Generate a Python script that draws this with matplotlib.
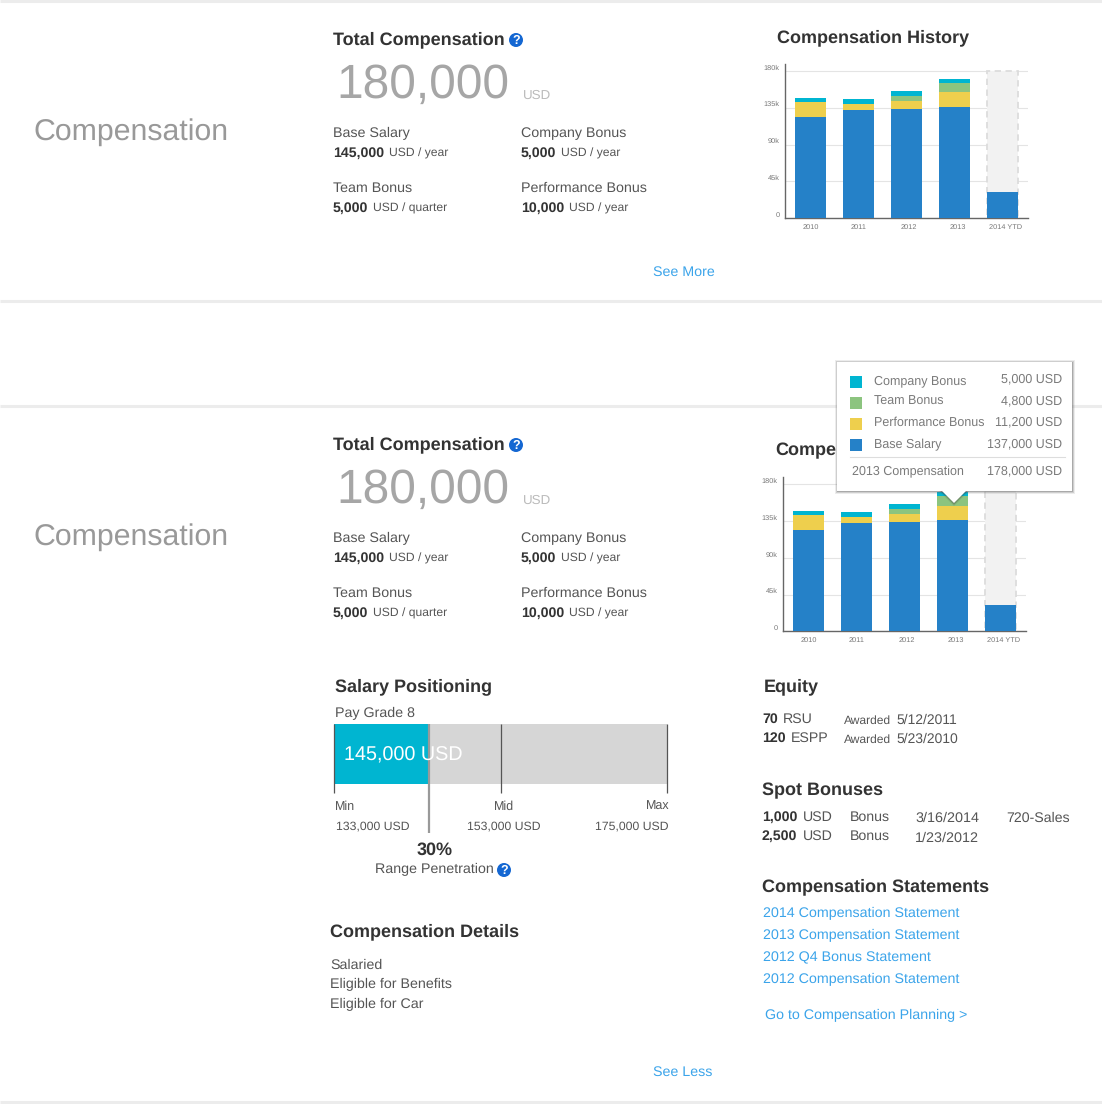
import matplotlib
matplotlib.use("Agg")
import matplotlib.pyplot as plt
from matplotlib.patches import Rectangle, Polygon, Circle
from matplotlib.transforms import ScaledTranslation

plt.rcParams['font.family'] = ['Liberation Sans', 'DejaVu Sans']
plt.rcParams['text.hinting'] = 'none'

# chart data, in thousands
years = ['2010', '2011', '2012', '2013', '2014 YTD']
base_salary = [124, 132.7, 134, 136.5, 32.2]
perf_bonus = [18.4, 7.3, 9.8, 17.2, 0]
team_bonus = [0, 0, 6.1, 12.2, 0]
company_bonus = [4.9, 6.1, 6.1, 4.9, 0]
ytd_target = 180
y_ticks = [0, 45, 90, 135, 180]
y_labels = ['0', '45k', '90k', '135k', '180k']

# tooltip
tip_names = ['Company Bonus', 'Team Bonus', 'Performance Bonus', 'Base Salary']
tip_values = ['5,000 USD', '4,800 USD', '11,200 USD', '137,000 USD']
tip_total = '178,000 USD'

# salary bar, position along the range in percent
salary_pos = 28.4
mid_pos = 50.2
range_names = ['Min', 'Mid', 'Max']
range_values = ['133,000 USD', '153,000 USD', '175,000 USD']

statements = ['2014 Compensation Statement', '2013 Compensation Statement',
              '2012 Q4 Bonus Statement', '2012 Compensation Statement']
details = ['Salaried', 'Eligible for Benefits', 'Eligible for Car']

BLUE = '#2581c8'
YELLOW = '#eecf4d'
GREEN = '#8cc47f'
CYAN = '#00b5d1'
DARK = '#333333'
MID = '#555555'
GREY = '#a6a6a6'
LINK = '#3ba4ea'
TIP = '#7a7a7a'
W, H = 1102, 1104

fig = plt.figure(figsize=(W / 100, H / 100), dpi=100, facecolor='white')
page = fig.add_axes([0, 0, 1, 1], zorder=2)
page.set_xlim(0, W)
page.set_ylim(H, 0)
page.axis('off')


def txt(x, y, s, size=10.3, color=MID, weight='normal', ha='left', zorder=3, axes=None):
    (axes or page).text(x, y, s, fontsize=size, color=color, fontweight=weight,
                        ha=ha, va='baseline', zorder=zorder)


def help_icon(x, y):
    page.add_patch(Circle((x, y), 7, fc='#1467d2', ec='none', zorder=3))
    page.text(x, y + 4, '?', fontsize=9, color='white', fontweight='bold',
              ha='center', va='baseline', zorder=4)


def summary(dy):
    txt(33, 140 + dy, 'Compensation', 21.8, '#999999')
    txt(333, 44 + dy, 'Total Compensation', 13, DARK, 'bold')
    help_icon(516, 40 + dy)
    txt(336, 98 + dy, '180,000', 34.5, GREY)
    txt(523, 99 + dy, 'USD', 9.6, '#bbbbbb')
    txt(333, 137 + dy, 'Base Salary')
    txt(333, 157 + dy, '145,000', 10.2, DARK, 'bold')
    txt(389, 157 + dy, 'USD / year', 8.7)
    txt(521, 137 + dy, 'Company Bonus')
    txt(521, 157 + dy, '5,000', 10.2, DARK, 'bold')
    txt(561, 157 + dy, 'USD / year', 8.7)
    txt(333, 192 + dy, 'Team Bonus')
    txt(333, 212 + dy, '5,000', 10.2, DARK, 'bold')
    txt(373, 212 + dy, 'USD / quarter', 8.7)
    txt(521, 192 + dy, 'Performance Bonus')
    txt(521, 212 + dy, '10,000', 10.2, DARK, 'bold')
    txt(569, 212 + dy, 'USD / year', 8.7)


def history(x0, y_base):
    # axes box: spine at x0, top of axis 154 px above the baseline
    left, right = x0, x0 + 243
    ax = fig.add_axes([left / W, 1 - y_base / H, (right - left) / W, 154 / H], zorder=1)
    ax.patch.set_alpha(0)
    ax.set_xlim(-0.531, 4.531)
    ax.set_ylim(0, 154 / (147 / 180))
    xs = range(len(years))
    ax.bar(xs, base_salary, width=0.63, color=BLUE, zorder=3)
    bottom = list(base_salary)
    for vals, col in [(perf_bonus, YELLOW), (team_bonus, GREEN), (company_bonus, CYAN)]:
        ax.bar(xs, vals, width=0.63, bottom=bottom, color=col, zorder=3)
        bottom = [b + v for b, v in zip(bottom, vals)]
    ax.bar([4], [ytd_target], width=0.63, facecolor='#f2f2f2', edgecolor='#dcdcdc',
           linewidth=1.3, linestyle=(0, (3.5, 2.5)), zorder=2)
    ax.set_yticks(y_ticks, y_labels)
    ax.set_xticks(list(xs), years)
    ax.tick_params(length=0, labelsize=5.3, labelcolor='#777777')
    ax.tick_params(axis='y', pad=4)
    ax.tick_params(axis='x', pad=4)
    # axis labels sit a little above their gridline in the original
    for lab in ax.get_yticklabels():
        lab.set_transform(lab.get_transform() + ScaledTranslation(0, 2.8 / 72, fig.dpi_scale_trans))
    for lab, shift in zip(ax.get_xticklabels(), [0.5, 0, 2, 3, 3.5]):
        lab.set_transform(lab.get_transform() + ScaledTranslation(shift * 0.72 / 72, 0, fig.dpi_scale_trans))
    ax.grid(axis='y', color='#e4e4e4', linewidth=0.8, zorder=0)
    for side in ['top', 'right']:
        ax.spines[side].set_visible(False)
    for side in ['left', 'bottom']:
        ax.spines[side].set_color('#666666')
        ax.spines[side].set_linewidth(1)
    return ax


# section rules
for y in [1, 301, 406, 1102]:
    page.plot([0, W], [y, y], color='#ececec', lw=2.2, zorder=1, solid_capstyle='butt')

summary(0)
summary(405)

txt(777, 42, 'Compensation History', 13, DARK, 'bold')
txt(775, 455, 'Compe', 13, DARK, 'bold')
history(785, 218)
history(783, 631.3)

txt(653, 276, 'See More', 10.3, LINK)
txt(653, 1076, 'See Less', 10.3, LINK)

# salary positioning
txt(335, 691, 'Salary Positioning', 13, DARK, 'bold')
txt(335, 717, 'Pay Grade 8')

bar = fig.add_axes([334.3 / W, 1 - 833 / H, 332.4 / W, 109 / H], zorder=1)
bar.patch.set_alpha(0)
bar.axis('off')
bar.set_xlim(0, 100)
bar.set_ylim(109, 0)
bar.barh(30, 100, height=60, color='#d6d6d6', zorder=1)
bar.barh(30, salary_pos, height=60, color=CYAN, zorder=2)
bar.vlines([0, mid_pos, 100], 0, 69, color='#555555', lw=0.9, zorder=3, clip_on=False)
bar.vlines([salary_pos], 0, 109, color='#999999', lw=1.6, zorder=4)
txt(344, 760, '145,000 USD', 14.2, '#ffffff', zorder=5)

for name, val, nx, vx in zip(range_names, range_values, [335, 494, 646], [335.5, 467, 595]):
    txt(nx, 810, name, 9)
    txt(vx, 829, val, 8.8)
txt(435, 855, '30%', 13, DARK, 'bold', ha='center')
txt(375, 873.5, 'Range Penetration')
help_icon(504, 870)

# details
txt(330, 936, 'Compensation Details', 13, DARK, 'bold')
for s, y in zip(details, [969, 988, 1008]):
    txt(330, y, s)

# right column
txt(764, 691, 'Equity', 13, DARK, 'bold')
txt(762, 722.5, '70', 10.2, DARK, 'bold')
txt(782.5, 722.5, 'RSU', 10.2)
txt(844, 723.5, 'Awarded', 8.65)
txt(896.7, 723.5, '5/12/2011', 10)
txt(762, 742, '120', 10.2, DARK, 'bold')
txt(790.5, 742, 'ESPP', 10.2)
txt(844, 743, 'Awarded', 8.65)
txt(896.7, 743, '5/23/2010', 10)

txt(762, 795, 'Spot Bonuses', 13, DARK, 'bold')
txt(762, 821, '1,000', 10.2, DARK, 'bold')
txt(802.5, 821, 'USD', 10.2)
txt(850, 821, 'Bonus', 10.2)
txt(915, 822, '3/16/2014', 10.4)
txt(1006, 822, '720-Sales', 10.2)
txt(762, 840, '2,500', 10.2, DARK, 'bold')
txt(802.5, 840, 'USD', 10.2)
txt(850, 840, 'Bonus', 10.2)
txt(915, 841.7, '1/23/2012', 10.4)

txt(762, 891, 'Compensation Statements', 13, DARK, 'bold')
for s, y in zip(statements, [917, 939, 961, 983]):
    txt(763, y, s, 10.3, LINK)
txt(765, 1019, 'Go to Compensation Planning >', 10.3, LINK)

# tooltip drawn over everything else
tip = fig.add_axes([0, 0, 1, 1], zorder=5)
tip.set_xlim(0, W)
tip.set_ylim(H, 0)
tip.axis('off')
tip.patch.set_alpha(0)
box = [837.3, 361.7, 235, 129]
for grow, a in [(2.5, 0.12), (1.5, 0.22), (0.5, 0.35)]:
    tip.add_patch(Rectangle((box[0] - grow + 0.5, box[1] - grow + 0.5), box[2] + 2 * grow, box[3] + 2 * grow,
                            fc='#666666', ec='none', alpha=a, zorder=1))
for grow, a in [(3, 0.12), (2, 0.18), (1, 0.28)]:
    tip.add_patch(Polygon([(941 - grow, 490), (967 + grow, 490), (954, 503 + grow)],
                          fc='#444444', ec='none', alpha=a, zorder=1))
tip.add_patch(Rectangle(box[:2], box[2], box[3], fc='white', ec='none', zorder=3))
tip.add_patch(Polygon([(941, 490), (967, 490), (954, 503)], fc='white', ec='none', zorder=3))
for name, val, col, y_sw, yn, yv in zip(tip_names, tip_values, [CYAN, GREEN, YELLOW, BLUE],
                                       [375.7, 397, 418.3, 438.7], [384, 405, 426, 448],
                                       [382, 404, 425.3, 447.5]):
    tip.add_patch(Rectangle((850, y_sw), 12, 12, fc=col, ec='none', zorder=4))
    txt(874, yn, name, 9, TIP, zorder=5, axes=tip)
    txt(1062, yv, val, 9, TIP, ha='right', zorder=5, axes=tip)
tip.plot([850, 1065], [457.3, 457.3], color='#dddddd', lw=0.8, zorder=4)
txt(852, 475.3, '2013 Compensation', 9, TIP, zorder=5, axes=tip)
txt(1062, 474.6, tip_total, 9, TIP, ha='right', zorder=5, axes=tip)

fig.savefig('out.png', dpi=100, facecolor='white')
